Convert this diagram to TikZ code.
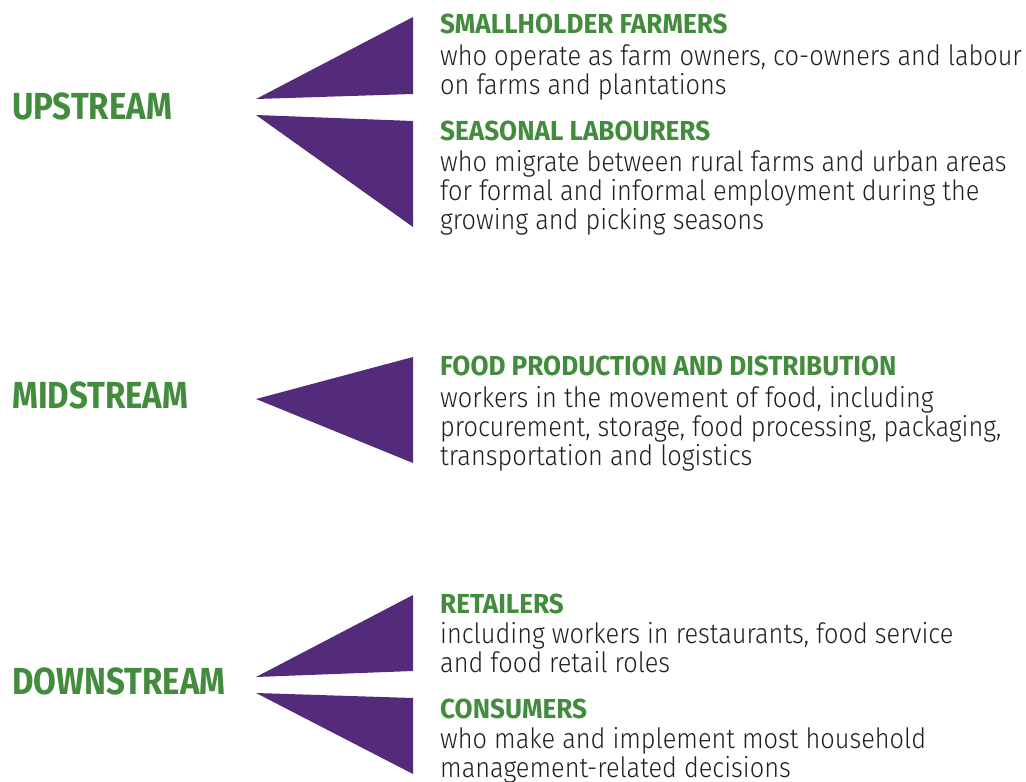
\documentclass[tikz,border=0pt]{standalone}
\usepackage{fontspec}
\newfontfamily\stagefont[FakeStretch=0.875]{Fira Sans}
\newfontfamily\headfont[FakeStretch=0.95]{Fira Sans}
\newfontfamily\bodyfont[FakeStretch=0.905]{Fira Sans Light}
\definecolor{leafgreen}{HTML}{438C3E}
\definecolor{plum}{HTML}{542B7B}
\begin{document}
\begin{tikzpicture}[x=1pt,y=-1pt,
  stage/.style={anchor=base west, inner sep=0pt, text=leafgreen, font=\stagefont\bfseries\fontsize{37.7}{40}\selectfont},
  head/.style={anchor=base west, inner sep=0pt, text=leafgreen, font=\headfont\bfseries\fontsize{27.5}{29}\selectfont},
  body/.style={anchor=base west, inner sep=0pt, text=black!88, align=left, font=\bodyfont\fontsize{28}{29}\selectfont},
  wedge/.style={fill=plum}]
\useasboundingbox (0,0) rectangle (1026,782);
% wedges
\fill[wedge] (256,99) -- (413,17) -- (413,94) -- cycle;
\fill[wedge] (256,115) -- (413,121) -- (413,227) -- cycle;
\fill[wedge] (256,399) -- (413,357) -- (413,463) -- cycle;
\fill[wedge] (256,677) -- (413,595) -- (413,671) -- cycle;
\fill[wedge] (256,693) -- (413,698) -- (413,774) -- cycle;
% stage labels
\node[stage] (up) at (12,119) {UPSTREAM};
\node[stage] (mid) at (12,408) {MIDSTREAM};
\node[stage] (down) at (12,694) {DOWNSTREAM};
% headings and texts (body nodes anchored at the baseline of their last line)
\node[head] (h1) at (440,33) {SMALLHOLDER FARMERS};
\node[body] (b1) at (440,94) {who operate as farm owners, co-owners and labour\\on farms and plantations};
\node[head] (h2) at (440,140) {SEASONAL LABOURERS};
\node[body] (b2) at (440,229) {who migrate between rural farms and urban areas\\for formal and informal employment during the\\growing and picking seasons};
\node[head] (h3) at (440,375) {FOOD PRODUCTION AND DISTRIBUTION};
\node[body] (b3) at (440,465) {workers in the movement of food, including\\procurement, storage, food processing, packaging,\\transportation and logistics};
\node[head] (h4) at (440,613) {RETAILERS};
\node[body] (b4) at (440,672) {including workers in restaurants, food service\\and food retail roles};
\node[head] (h5) at (440,718) {CONSUMERS};
\node[body] (b5) at (440,777) {who make and implement most household\\management-related decisions};
\end{tikzpicture}
\end{document}
